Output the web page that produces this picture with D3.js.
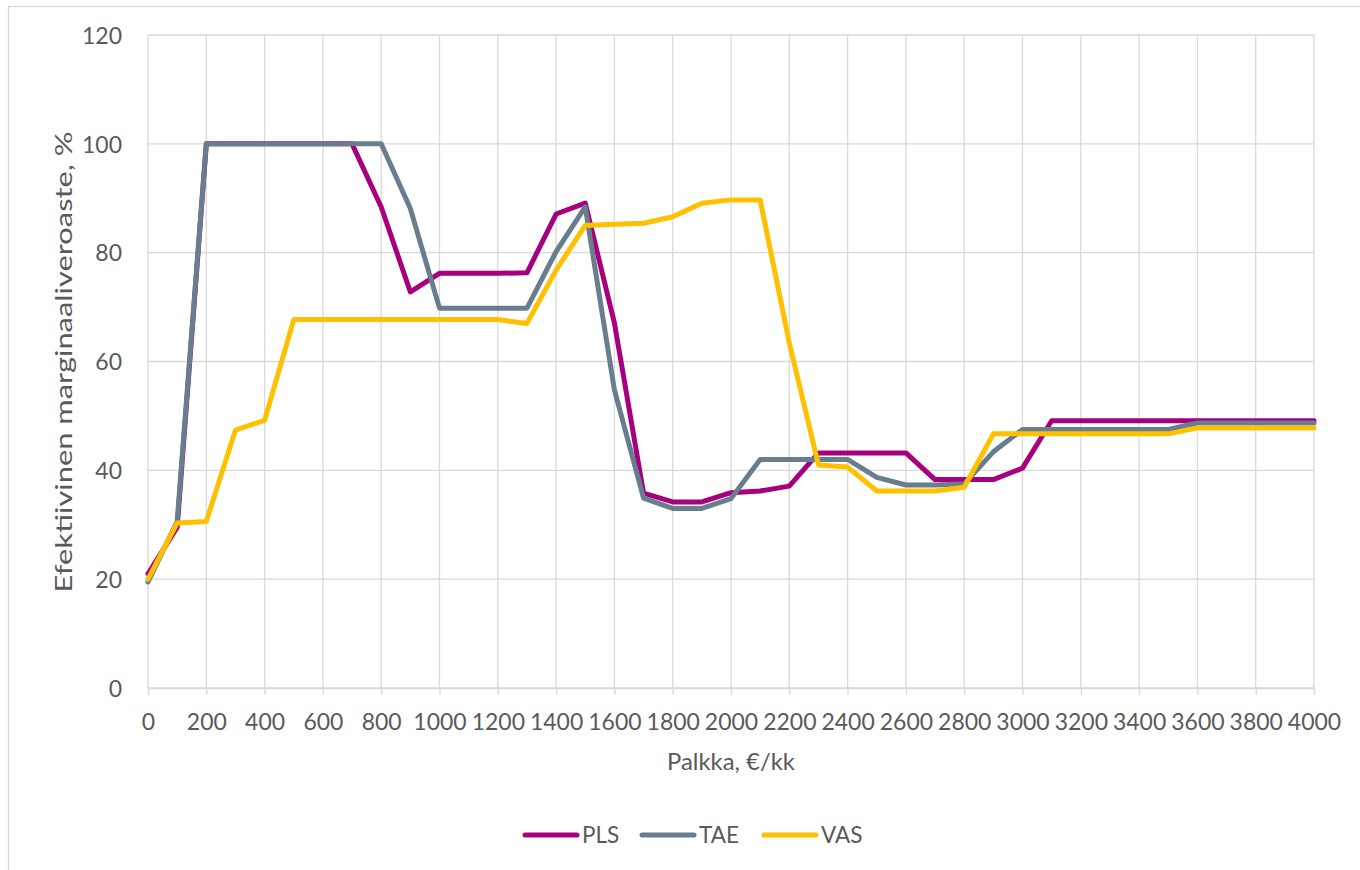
<!DOCTYPE html>
<html><head><meta charset="utf-8">
<script src="https://cdn.jsdelivr.net/npm/d3@7"></script>
<style>
body{margin:0;background:#fff;}
svg text{font-family:Lato,"Open Sans",sans-serif;fill:#595959;}
</style></head><body>
<svg id="c" width="1360" height="870"></svg>
<script>
const salary = d3.range(0, 4001, 100);
const PLS = [21,29.5,100,100,100,100,100,100,88.4,72.8,76.2,76.2,76.2,76.3,87.1,89.1,67.1,35.8,34.2,34.2,35.9,36.2,37.1,43.2,43.2,43.2,43.2,38.3,38.3,38.3,40.4,49.1,49.1,49.1,49.1,49.1,49.1,49.1,49.1,49.1,49.1];
const TAE = [19.5,30.6,100,100,100,100,100,100,100,88.1,69.8,69.8,69.8,69.8,80.2,88.4,54.8,34.9,33,33,34.8,42,42,42,42,38.7,37.3,37.3,37.5,43.4,47.5,47.5,47.5,47.5,47.5,47.5,48.7,48.7,48.7,48.7,48.7];
const VAS = [20,30.3,30.6,47.4,49.2,67.7,67.7,67.7,67.7,67.7,67.7,67.7,67.7,67.0,76.8,85.0,85.2,85.4,86.6,89.1,89.7,89.7,63.4,41.0,40.6,36.2,36.2,36.2,36.9,46.7,46.7,46.7,46.7,46.7,46.7,46.7,47.8,47.8,47.8,47.8,47.8];
const seriesNames = ["PLS","TAE","VAS"];
const seriesColors = ["#A7007F","#687D8E","#FFC000"];
const xTicks = d3.range(0, 4001, 200);
const yTicks = [0,20,40,60,80,100,120];
const yTitle = "Efektiivinen marginaaliveroaste, %";
const xTitle = "Palkka, €/kk";

const svg = d3.select("#c");
function measure(text, size){
  const t = svg.append("text").style("font-size",size+"px").text(text);
  const w = t.node().getComputedTextLength();
  t.remove();
  return w;
}
function fitSize(text, target){ return 20*target/measure(text,20); }
const tickSize = fitSize("200", 40);
const xTitleSize = fitSize(xTitle, 128);
const legSize = fitSize("TAE", 40);
const yTitleSize = xTitleSize;
const yStretch = 461 / measure(yTitle, yTitleSize);

// chart frame
svg.append("rect").attr("x",8.5).attr("y",6.5).attr("width",1400).attr("height",900)
  .attr("fill","none").attr("stroke","#d9d9d9").attr("stroke-width",1.3);

const x = d3.scaleLinear().domain([0,4000]).range([148,1314]);
const y = d3.scaleLinear().domain([0,120]).range([688,35]);

// gridlines
const g = svg.append("g");
g.selectAll(".vg").data(xTicks).join("line")
  .attr("x1",d=>x(d)).attr("x2",d=>x(d)).attr("y1",y(120)).attr("y2",y(0))
  .attr("stroke","#d9d9d9").attr("stroke-width",1.3);
g.selectAll(".hg").data(yTicks).join("line")
  .attr("x1",x(0)).attr("x2",x(4000)).attr("y1",d=>y(d)).attr("y2",d=>y(d))
  .attr("stroke","#d9d9d9").attr("stroke-width",1.3);

// x axis
const xa = svg.append("g").attr("transform",`translate(0,${y(0)})`)
  .call(d3.axisBottom(x).tickValues(xTicks).tickSize(7).tickPadding(0).tickFormat(d3.format("d")));
xa.attr("font-family",null).attr("font-size",null);
xa.select(".domain").attr("stroke","#d9d9d9").attr("stroke-width",1.3);
xa.selectAll(".tick line").attr("stroke","#d9d9d9").attr("stroke-width",1.3);
xa.selectAll("text").attr("dy",null).attr("y",42).style("font-size",tickSize+"px").style("fill","#595959");

// y axis
const ya = svg.append("g").attr("transform",`translate(${x(0)},0)`)
  .call(d3.axisLeft(y).tickValues(yTicks).tickSize(0).tickPadding(26));
ya.attr("font-family",null).attr("font-size",null);
ya.select(".domain").remove();
ya.selectAll("text").attr("dy","0.36em").style("font-size",tickSize+"px").style("fill","#595959");

// titles
svg.append("text").attr("x",731).attr("y",770).attr("text-anchor","middle")
  .style("font-size",xTitleSize+"px").text(xTitle);
svg.append("text").attr("transform",`translate(72,362) scale(1,${yStretch}) rotate(-90)`).attr("text-anchor","middle")
  .style("font-size",yTitleSize+"px").text(yTitle);

// lines
const data = [PLS,TAE,VAS];
const line = d3.line().x((d,i)=>x(salary[i])).y(d=>y(d));
data.forEach((s,k)=>{
  svg.append("path").datum(s).attr("d",line).attr("fill","none")
    .attr("stroke",seriesColors[k]).attr("stroke-width",5)
    .attr("stroke-linejoin","round").attr("stroke-linecap","round");
});

// legend
const legX = [523,640,762];
seriesNames.forEach((n,k)=>{
  svg.append("line").attr("x1",legX[k]+2).attr("x2",legX[k]+54).attr("y1",835).attr("y2",835)
    .attr("stroke",seriesColors[k]).attr("stroke-width",5).attr("stroke-linecap","round");
  svg.append("text").attr("x",legX[k]+59).attr("y",843).style("font-size",legSize+"px").text(n);
});
</script></body></html>
